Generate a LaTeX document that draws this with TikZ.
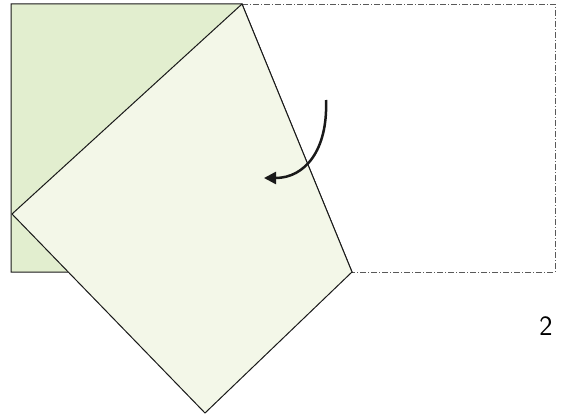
\documentclass[tikz,border=0pt]{standalone}
\usepackage{tikz}
\usetikzlibrary{arrows.meta, calc}
\definecolor{paperdark}{RGB}{226,238,207}
\definecolor{paperlight}{RGB}{243,247,232}

\begin{document}
\begin{tikzpicture}[x=1pt, y=-1pt,
            paper/.style={draw=black!90, line width=1pt, line join=miter},
            ghost/.style={draw=black!65, line width=0.8pt, dash pattern=on 6pt off 2pt on 1pt off 2pt},
            turn/.style={line width=2.5pt, draw=black!90, -{Triangle[length=12pt, width=12pt]}}
        ]
            \useasboundingbox (0,0) rectangle (561,417);
            % Corners of the sheet
            \coordinate (tl) at (11,4);
            \coordinate (tr) at (555,4);
            \coordinate (br) at (555,272);
            \coordinate (bl) at (11,272);
            % Fold line
            \coordinate (ftop) at (242,4);
            \coordinate (fbot) at (352,272);
            % Folded-over corners
            \coordinate (ftr) at (12,214);
            \coordinate (fbr) at (205,413);
            % Former position of the flap
            \draw[ghost] (ftop) -- (tr) -- (br) -- (fbot);
            % Back layer
            \filldraw[paper, fill=paperdark] (tl) -- (ftop) -- (fbot) -- (bl) -- cycle;
            % Folded flap
            \filldraw[paper, fill=paperlight] (ftop) -- (fbot) -- (fbr) -- (ftr) -- cycle;
            % Turn arrow
            \coordinate (a0) at (326,100);
            \coordinate (a1) at (264,178);
            \draw[turn] (a0) .. controls (328,150) and (305,178) .. (a1);
            % Step number
            \node[font=\sffamily\fontsize{28}{30}\selectfont] (num) at (546,326) {2};
        \end{tikzpicture}
\end{document}
